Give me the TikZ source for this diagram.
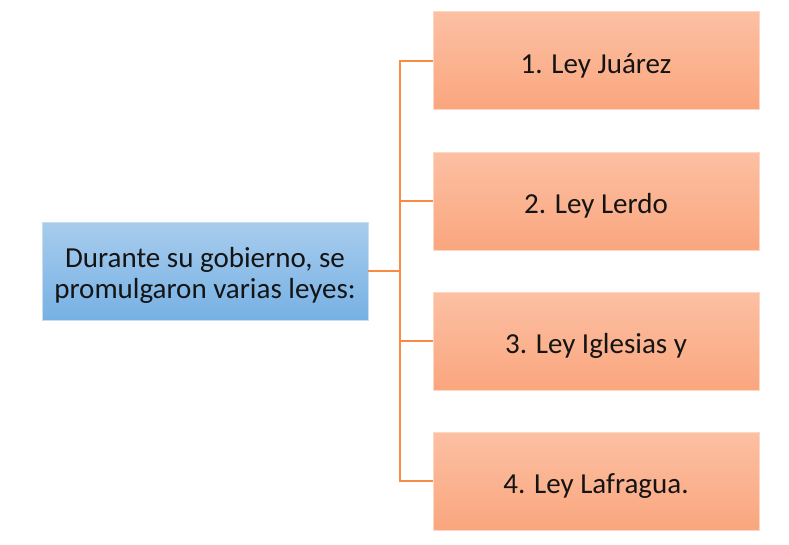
\documentclass[tikz,border=0pt]{standalone}
\usepackage{fontspec}
\setmainfont{Carlito}
\begin{document}
\begin{tikzpicture}[x=1pt,y=-1pt,
  boxbase/.style={rectangle, minimum width=326pt, minimum height=98pt, inner sep=0pt, line width=0.6pt},
  bluebox/.style={boxbase,
    top color={rgb,255:red,168;green,204;blue,237}, bottom color={rgb,255:red,118;green,177;blue,228},
    draw={rgb,255:red,200;green,222;blue,240}},
  orbox/.style={boxbase,
    top color={rgb,255:red,252;green,192;blue,163}, bottom color={rgb,255:red,250;green,166;blue,126},
    draw={rgb,255:red,253;green,215;blue,195}},
  txt/.style={inner sep=0pt, align=center, font=\fontsize{29}{31}\selectfont,
    text={rgb,255:red,20;green,20;blue,20}},
  conn/.style={draw={rgb,255:red,248;green,140;blue,68}, line width=2pt}]
\useasboundingbox (0,0) rectangle (789,544);
\node[bluebox] (src) at (205,271) {};
\node[txt] (srct) at (205,275) {Durante su gobierno, se\\promulgaron varias leyes:};
\node[orbox] (b1) at (596,60.5) {};
\node[orbox] (b2) at (596,201) {};
\node[orbox] (b3) at (596,341) {};
\node[orbox] (b4) at (596,481) {};
\node[txt] (t1) at ([yshift=-5pt]b1.center) {1. Ley Juárez};
\node[txt] (t2) at ([yshift=-5pt]b2.center) {2. Ley Lerdo};
\node[txt] (t3) at ([yshift=-5pt]b3.center) {3. Ley Iglesias y};
\node[txt] (t4) at ([yshift=-5pt]b4.center) {4. Ley Lafragua.};
\coordinate (jn) at (400,271);
\draw[conn] (src.east) -- (jn);
\foreach \b in {b1,b2,b3,b4} \draw[conn] (jn) |- (\b.west);
\end{tikzpicture}
\end{document}
